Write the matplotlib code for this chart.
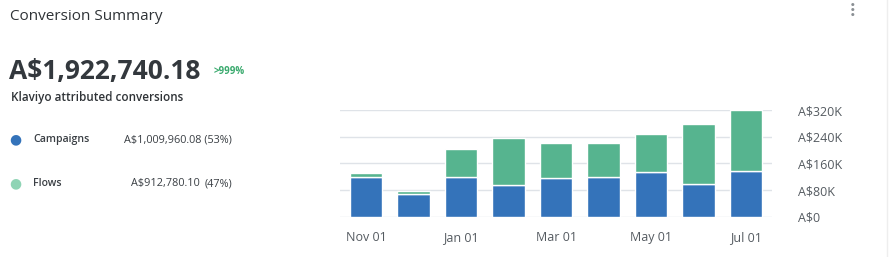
import matplotlib
matplotlib.use("Agg")
import matplotlib.pyplot as plt
import numpy as np

months = ["Nov", "Dec", "Jan", "Feb", "Mar", "Apr", "May", "Jun", "Jul"]
tick_labels = ["Nov 01", "", "Jan 01", "", "Mar 01", "", "May 01", "", "Jul 01"]
campaigns = [118, 68, 118, 96, 115, 120, 133, 99, 137]   # thousands A$
flows = [14, 9, 84, 139, 107, 100, 116, 179, 184]        # thousands A$
y_ticks = [0, 80, 160, 240, 320]
y_tick_labels = ["A$0", "A$80K", "A$160K", "A$240K", "A$320K"]

BLUE = "#3473ba"
GREEN = "#56b48f"
GREEN_DOT = "#8fd4b5"
TXT = "#2f3337"

plt.rcParams['font.family'] = ['Open Sans', 'DejaVu Sans']

W, H = 889, 257
fig = plt.figure(figsize=(W / 100, H / 100), dpi=100)
fig.patch.set_facecolor("white")

def px(x, y):
    return x / W, 1 - y / H

# Axes placement
ax_left, ax_right = 340, 772
ax_top, ax_bottom = 110, 216.7
ax = fig.add_axes([ax_left / W, 1 - ax_bottom / H, (ax_right - ax_left) / W, (ax_bottom - ax_top) / H])

x = np.arange(len(months))
ax.bar(x, campaigns, width=0.68, color=BLUE, edgecolor="white", linewidth=1.0, zorder=3)
ax.bar(x, flows, bottom=campaigns, width=0.68, color=GREEN, edgecolor="white", linewidth=1.0, zorder=3)

ax.set_xlim(-0.55, len(months) - 1 + 0.55)
ax.set_ylim(0, 320)
ax.set_yticks(y_ticks)
ax.set_yticklabels(y_tick_labels)
ax.yaxis.tick_right()
ax.yaxis.grid(True, color="#dfe3e8", linewidth=1.0, zorder=0)
ax.set_xticks(x)
ax.set_xticklabels(tick_labels)
ax.tick_params(axis="both", length=0, labelsize=9, labelcolor="#555b61")
ax.tick_params(axis="y", pad=18.5)
ax.tick_params(axis="x", pad=10)
for s in ax.spines.values():
    s.set_visible(False)

# Texts
fig.text(*px(10, 16), "Conversion Summary", fontsize=11, color=TXT, va="center", ha="left")
fig.text(*px(9, 71), "A$1,922,740.18", fontsize=19, fontweight="bold", color="#33383d", va="center", ha="left")
fig.text(*px(214, 72), ">999%", fontsize=7, fontweight="bold", color="#3aaa6e", va="center", ha="left")
fig.text(*px(11, 98), "Klaviyo attributed conversions", fontsize=8.4, fontweight="semibold", color=TXT, va="center", ha="left")

fig.text(*px(15, 139.5), "●", fontsize=10, color=BLUE, va="center", ha="center")
fig.text(*px(33, 139.5), "Campaigns", fontsize=7.6, fontweight="semibold", color="#3a3f44", va="center", ha="left")
fig.text(*px(124, 139.5), "A$1,009,960.08 (53%)", fontsize=7.8, color="#3a3f44", va="center", ha="left")

fig.text(*px(15, 183.5), "●", fontsize=10, color=GREEN_DOT, va="center", ha="center")
fig.text(*px(33, 183.5), "Flows", fontsize=7.6, fontweight="semibold", color="#3a3f44", va="center", ha="left")
fig.text(*px(131, 183.5), "A$912,780.10", fontsize=7.8, color="#3a3f44", va="center", ha="left")
fig.text(*px(205, 183.5), "(47%)", fontsize=7.8, color="#3a3f44", va="center", ha="left")

# kebab menu
for yy in (5, 10, 15):
    fig.text(*px(853, yy), "●", fontsize=3, color="#8a8f94", va="center", ha="center")

# right border line
fig.add_artist(plt.Line2D([887 / W, 887 / W], [0, 1], color="#eeeeee", linewidth=1))

fig.savefig("out.png", dpi=100, facecolor="white")
